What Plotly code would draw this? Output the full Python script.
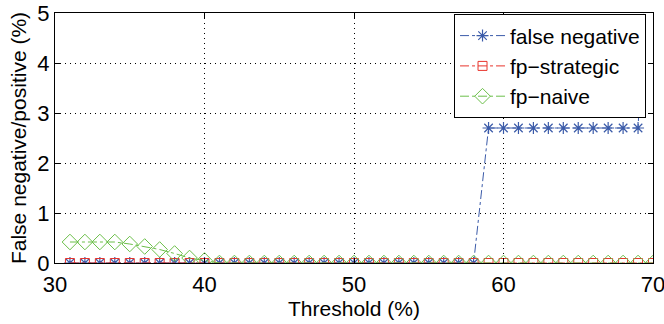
import plotly.graph_objects as go

thresholds = list(range(31, 71))
false_negative = [0.0] * 28 + [2.7] * 11 + [8.8]
fp_strategic = [0.0] * 40
fp_naive = [0.42, 0.42, 0.42, 0.42, 0.38, 0.33, 0.27, 0.19, 0.10, 0.05] + [0.0] * 30

x_ticks = [30, 40, 50, 60, 70]
y_ticks = [0, 1, 2, 3, 4, 5]

BLUE = "#3b5ba9"
RED = "#e8342c"
GREEN = "#6cbf4a"
FONT = "Liberation Sans, Arial, Helvetica, sans-serif"

fig = go.Figure()
fig.add_trace(go.Scatter(
    x=thresholds, y=false_negative, name="false negative", mode="lines+markers",
    line=dict(color=BLUE, width=1, dash="dashdot"),
    marker=dict(symbol="asterisk-open", size=10, color=BLUE, line=dict(color=BLUE, width=1.2)),
))
fig.add_trace(go.Scatter(
    x=thresholds, y=fp_strategic, name="fp\u2212strategic", mode="lines+markers",
    line=dict(color=RED, width=1, dash="dashdot"),
    marker=dict(symbol="square-open", size=9, color=RED, line=dict(color=RED, width=1)),
))
fig.add_trace(go.Scatter(
    x=thresholds, y=fp_naive, name="fp\u2212naive", mode="lines+markers",
    line=dict(color=GREEN, width=1, dash="dashdot"),
    marker=dict(symbol="diamond-open", size=12, color=GREEN, line=dict(color=GREEN, width=1)),
))

axis_common = dict(
    showline=True, linecolor="black", linewidth=1.2, mirror="ticks",
    ticks="inside", ticklen=5, tickcolor="black",
    showgrid=True, gridcolor="black", gridwidth=1, griddash="1px,4px",
    zeroline=False, tickfont=dict(size=22, color="black"), automargin=False,
    ticklabeloverflow="allow",
)

fig.update_layout(
    width=664, height=324,
    margin=dict(l=55, r=11, t=13, b=61),
    paper_bgcolor="white", plot_bgcolor="white",
    font=dict(family=FONT, color="black"),
    showlegend=True,
    legend=dict(
        x=0.988, y=0.995, xanchor="right", yanchor="top",
        bgcolor="white", bordercolor="black", borderwidth=1.2,
        font=dict(size=21, color="black"), tracegroupgap=0,
        itemwidth=45,
    ),
    xaxis=dict(range=[30, 70], tickvals=x_ticks, ticklabelstandoff=1,
               title=dict(text="Threshold (%)", font=dict(size=21), standoff=2),
               **axis_common),
    yaxis=dict(range=[0, 5], tickvals=y_ticks,
               title=dict(text="False negative/positive (%)", font=dict(size=21), standoff=4),
               **axis_common),
)

fig.write_html(
    "out.html",
    config={"displayModeBar": False, "staticPlot": True},
    post_script="document.body.style.margin='0';document.body.style.overflow='hidden';",
)
